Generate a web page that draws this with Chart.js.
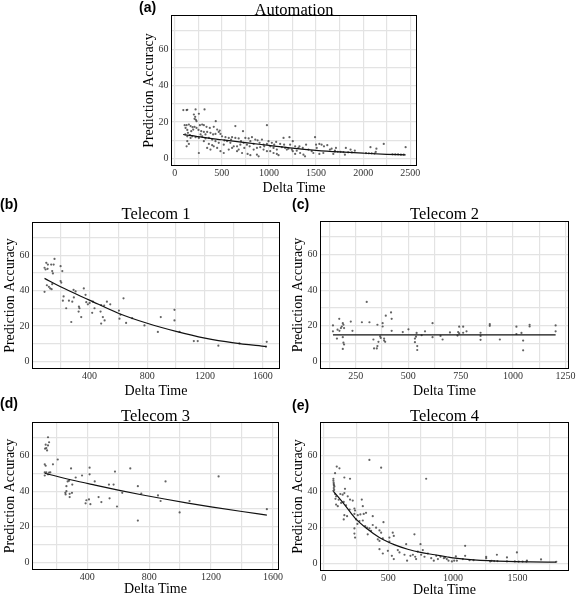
<!DOCTYPE html>
<html>
<head>
<meta charset="utf-8">
<script src="https://cdn.jsdelivr.net/npm/chart.js@4.4.0/dist/chart.umd.min.js"></script>
<style>
  body { margin: 0; background: #fff; width: 576px; height: 596px; position: relative; overflow: hidden; }
  canvas { position: absolute; }
  .tag { position: absolute; font: bold 14px "Liberation Sans", Arial, sans-serif; line-height: 14px; color: #000; z-index: 2; }
</style>
</head>
<body>
<canvas id="pa"></canvas>
<canvas id="pb"></canvas>
<canvas id="pc"></canvas>
<canvas id="pd"></canvas>
<canvas id="pe"></canvas>
<div class="tag" style="left:139px;top:0px">(a)</div>
<div class="tag" style="left:0px;top:197px">(b)</div>
<div class="tag" style="left:292px;top:197px">(c)</div>
<div class="tag" style="left:0px;top:396px">(d)</div>
<div class="tag" style="left:292px;top:398px">(e)</div>
<script>
// shared y axis
const yGrid = [0, 10, 20, 30, 40, 50, 60, 70];
const yLabels = [0, 20, 40, 60];

// x axis grids / labels per panel
const autoXGrid = [0, 250, 500, 750, 1000, 1250, 1500, 1750, 2000, 2250, 2500];
const autoXLabels = [0, 500, 1000, 1500, 2000, 2500];
const tel1XGrid = [200, 400, 600, 800, 1000, 1200, 1400, 1600];
const tel1XLabels = [400, 800, 1200, 1600];
const tel2XGrid = [125, 250, 375, 500, 625, 750, 875, 1000, 1125, 1250];
const tel2XLabels = [250, 500, 750, 1000, 1250];
const tel3XGrid = [200, 400, 600, 800, 1000, 1200, 1400, 1600];
const tel3XLabels = [400, 800, 1200, 1600];
const tel4XGrid = [0, 250, 500, 750, 1000, 1250, 1500, 1750];
const tel4XLabels = [0, 500, 1000, 1500];

// (a) Automation: [delta time, accuracy]
const automationPts = [
  [92,26.5],[127,26.5],[134,26.7],[222,26.9],[317,26.9],[257,24.5],[204,24.1],[218,22.8],[211,21.7],[225,21.2],
  [232,20.4],[436,20.4],[106,18.2],[127,18.2],[151,18.6],[169,17.7],[190,17.1],[211,17.3],[232,16.7],[268,18.2],
  [292,18.6],[310,18.2],[338,17.3],[373,16.7],[415,17.3],[451,15.8],[479,15.3],[644,17.7],[725,14.9],[979,18.2],
  [116,16.7],[134,15.6],[197,15.8],[253,15.6],[282,14.9],[310,14.5],[345,14.5],[380,14.0],[433,13.4],[468,14.5],
  [503,12.1],[539,11.6],[574,11.2],[609,11.6],[644,11.2],[679,10.9],[750,11.2],[785,10.9],[820,11.6],[855,10.3],
  [880,9.9],[926,10.3],[996,9.4],[1031,8.5],[1077,9.0],[1119,7.9],[1155,11.2],[1218,11.6],[1253,9.4],[1278,6.6],
  [1313,5.7],[113,13.1],[134,12.1],[162,12.7],[169,11.2],[187,12.1],[222,11.6],[257,11.2],[292,12.1],[327,10.9],
  [363,11.2],[398,10.3],[433,9.4],[468,8.5],[521,7.5],[556,9.4],[591,8.5],[627,6.6],[662,6.6],[697,7.5],
  [732,8.5],[767,7.5],[796,6.6],[838,7.9],[873,5.7],[908,6.1],[943,7.5],[979,7.9],[1014,6.6],[1049,5.7],
  [1084,4.8],[1137,6.1],[1172,5.7],[1207,5.3],[1243,4.8],[134,9.4],[151,7.9],[127,6.6],[257,2.9],[345,5.7],
  [380,4.8],[415,6.6],[451,5.7],[486,3.9],[521,2.9],[574,4.8],[662,3.9],[715,2.9],[774,2.4],[803,1.7],
  [873,2.0],[891,1.1],[979,3.9],[1084,2.4],[1102,1.7],[1190,4.8],[1295,4.2],[141,14.0],[176,14.9],[275,13.1],
  [327,13.1],[408,13.1],[486,13.4],[528,9.8],[599,10.3],[704,9.4],[803,9.4],[901,8.5],[950,6.6],[1056,7.5],
  [1161,7.5],[1225,7.5],[310,9.4],[363,7.9],[398,7.2],[609,5.7],[679,4.8],[739,5.7],[838,4.8],[943,4.8],
  [1014,3.9],[1049,2.9],[1324,6.6],[1359,5.7],[1394,7.5],[1489,11.6],[1500,7.5],[1507,5.7],[1535,7.9],[1559,7.5],
  [1584,6.6],[1619,7.2],[1647,4.8],[1665,5.3],[1711,5.7],[1816,5.7],[1866,4.8],[1911,4.2],[2077,6.1],[2140,5.3],
  [2133,3.5],[2218,7.9],[2450,6.1],[1253,3.9],[1278,2.4],[1331,2.9],[1366,2.0],[1383,1.1],[1454,3.9],[1471,2.9],
  [1535,2.4],[1577,2.9],[1683,2.4],[1806,2.0],[1419,4.8],[1700,4.2],[1700,3.7],[1730,3.6],[1760,3.5],[1790,3.4],
  [1840,3.3],[1880,3.2],[2030,2.8],[2060,2.7],[2090,2.7],[2120,2.6],[2310,2.2],[2340,2.1],[2370,2.1],[2400,2.0],
  [2430,2.0]
];
const automationFit = [[90,13.1],[300,11.5],[500,10.2],[750,8.6],[1000,7.1],[1250,5.6],[1500,4.4],[1750,3.5],[2000,2.8],[2250,2.2],[2450,1.9]];

// (b) Telecom 1
const telecom1Pts = [
  [89,53.0],[101,55.8],[112,54.8],[135,54.8],[152,54.8],[158,58.0],[96,52.0],[110,52.4],[142,51.1],[147,49.8],
  [200,53.9],[212,51.1],[200,45.5],[205,44.6],[105,43.1],[119,42.2],[128,41.3],[138,40.9],[89,39.4],[142,43.7],
  [290,40.5],[304,39.6],[361,41.3],[373,37.7],[221,36.8],[216,34.4],[258,34.4],[281,33.8],[239,30.1],[292,36.2],
  [327,31.0],[331,30.1],[325,28.2],[343,25.1],[274,22.3],[378,33.5],[389,32.3],[401,33.1],[424,33.8],[435,30.1],
  [419,27.5],[481,31.9],[502,31.6],[521,33.8],[544,32.3],[477,28.2],[481,21.4],[493,25.1],[505,23.2],[604,28.8],
  [636,35.7],[615,26.4],[608,24.2],[654,21.8],[696,24.5],[781,20.4],[874,16.7],[894,25.1],[989,29.2],[989,23.2],
  [1024,16.7],[1123,11.5],[1150,11.5],[1293,8.9],[1439,10.2],[1623,8.4],[1628,11.1]
];
const telecom1Fit = [[89,47.0],[200,42.2],[400,34.7],[600,27.3],[800,21.6],[1000,17.0],[1200,13.2],[1400,10.5],[1626,8.4]];

// (c) Telecom 2
const telecom2Pts = [
  [141,20.2],[141,16.9],[160,12.8],[163,17.8],[171,23.9],[172,17.2],[179,18.7],[183,19.6],[188,21.5],[191,20.6],
  [194,18.7],[188,13.6],[191,10.5],[194,9.5],[188,7.0],[226,22.4],[234,17.2],[279,22.0],[302,33.4],[315,22.0],
  [353,20.6],[378,21.5],[378,19.6],[418,27.5],[421,23.9],[393,25.7],[421,17.2],[334,12.3],[337,7.3],[350,7.3],
  [353,8.6],[358,11.0],[366,14.1],[369,13.2],[385,12.8],[385,11.7],[390,11.0],[474,16.5],[501,18.0],[540,16.0],
  [537,13.9],[532,12.8],[532,10.8],[543,8.6],[543,6.4],[564,14.7],[580,16.9],[616,21.5],[616,13.6],[654,14.3],
  [664,12.3],[699,16.3],[743,19.5],[762,19.5],[738,16.5],[743,15.8],[762,16.1],[778,16.9],[735,14.5],[845,16.1],
  [845,14.3],[845,12.1],[889,20.9],[889,20.0],[937,12.3],[1016,19.5],[1016,15.4],[1040,16.0],[1048,11.7],[1048,6.2],
  [1079,20.6],[1079,19.6],[1203,20.2],[1203,16.9]
];
const telecom2Fit = [[141,14.9],[1203,14.9]];

// (d) Telecom 3
const telecom3Pts = [
  [146,70.3],[153,67.5],[131,66.1],[146,65.7],[127,63.9],[135,64.2],[140,62.9],[125,55.1],[131,54.3],[178,55.1],
  [209,57.8],[125,50.6],[135,50.6],[153,50.5],[161,50.6],[125,48.8],[146,49.5],[295,52.8],[415,53.2],[415,49.5],
  [366,48.8],[325,47.7],[273,45.5],[282,45.9],[448,45.5],[303,43.7],[265,42.8],[265,40.0],[258,39.1],[286,38.5],
  [301,39.1],[286,36.7],[260,38.2],[394,34.9],[411,35.4],[389,33.2],[420,32.7],[473,36.7],[491,33.9],[544,36.0],
  [540,43.7],[570,43.7],[579,51.0],[592,31.4],[678,52.8],[727,42.8],[626,39.1],[749,38.7],[727,23.5],[857,37.6],
  [874,34.5],[906,45.5],[997,28.1],[1061,34.5],[1249,48.3],[1561,29.9]
];
const telecom3Fit = [[125,50.1],[300,46.3],[450,43.4],[600,40.6],[750,38.0],[900,35.6],[1050,33.3],[1200,31.2],[1400,28.6],[1561,26.6]];

// (e) Telecom 4
const telecom4Pts = [
  [353,57.7],[444,53.4],[100,54.0],[121,53.0],[87,50.3],[159,47.9],[203,47.2],[793,47.2],[74,47.2],[74,46.1],
  [77,44.2],[82,42.9],[77,42.0],[164,41.6],[87,38.7],[128,38.7],[146,38.3],[159,39.2],[95,37.4],[185,37.4],
  [203,35.6],[224,35.0],[294,35.6],[154,34.3],[134,33.7],[95,32.8],[108,31.9],[172,32.4],[302,31.9],[237,30.6],
  [242,29.5],[237,27.6],[263,26.9],[283,27.3],[309,27.6],[327,28.2],[159,26.9],[180,26.3],[154,24.5],[250,24.5],
  [276,23.6],[302,23.9],[379,26.3],[462,23.0],[320,20.8],[335,19.9],[353,19.5],[366,18.1],[379,21.4],[405,19.9],
  [431,18.4],[444,17.1],[340,16.2],[237,19.5],[237,16.6],[242,14.4],[418,13.4],[431,12.5],[457,14.0],[508,12.2],
  [534,17.1],[542,15.3],[508,14.4],[702,16.2],[638,10.7],[749,10.7],[431,7.9],[496,7.0],[457,5.5],[527,4.2],
  [542,2.4],[573,7.4],[586,6.1],[625,4.8],[645,1.5],[671,4.2],[690,4.8],[708,3.7],[715,2.4],[728,6.6],
  [754,4.8],[767,7.4],[780,3.7],[806,5.5],[832,2.9],[852,1.5],[871,4.2],[884,2.4],[904,3.7],[930,2.9],
  [76,45.0],[78,43.5],[80,41.0],[74,40.5],[90,36.0],[115,35.5],[200,30.0],[260,22.0],
  [1095,9.8],[1095,4.2],[1023,3.9],[940,3.3],[953,2.4],[966,1.5],[992,1.1],[1010,1.5],[1031,1.5],[1077,2.4],
  [1129,1.8],[1160,1.8],[1258,3.7],[1258,2.9],[1289,1.1],[1341,4.8],[1419,3.3],[1419,1.1],[1496,6.1],[1574,1.5],
  [1683,2.2],[1801,0.9],[1300,1.4],[1320,1.3],[1345,1.3],[1480,1.1],[1510,1.0],[1540,1.0],[1570,1.0]
];
const telecom4Fit = [[74,40.2],[160,32.8],[240,25.4],[340,19.0],[430,14.4],[550,10.3],[650,7.9],[750,6.1],[860,4.8],[950,3.7],[1000,3.1],[1160,2.0],[1420,1.1],[1600,0.85],[1801,0.7]];

const SERIF = '"Liberation Serif", "Times New Roman", serif';
const M = { left: 48, right: 12, top: 24, bottom: 34 }; // canvas margin around plot box

const panels = [
  { id: 'pa', title: 'Automation', pts: automationPts, fit: automationFit, xGrid: autoXGrid, xLabels: autoXLabels, xMin: -28, xMax: 2560, box: [172, 16, 416, 165], gap: 1, xTitlePad: 2.6 },
  { id: 'pb', title: 'Telecom 1', pts: telecom1Pts, fit: telecom1Fit, xGrid: tel1XGrid, xLabels: tel1XLabels, xMin: 9, xMax: 1713, box: [33, 223, 279, 368], gap: 4, xTitlePad: 2.6 },
  { id: 'pc', title: 'Telecom 2', pts: telecom2Pts, fit: telecom2Fit, xGrid: tel2XGrid, xLabels: tel2XLabels, xMin: 84, xMax: 1262, box: [321, 222, 568, 368], gap: 3.5, xTitlePad: 2.6 },
  { id: 'pd', title: 'Telecom 3', pts: telecom3Pts, fit: telecom3Fit, xGrid: tel3XGrid, xLabels: tel3XLabels, xMin: 49, xMax: 1633, box: [33, 423, 278, 569], gap: 2, xTitlePad: 5.6 },
  { id: 'pe', title: 'Telecom 4', pts: telecom4Pts, fit: telecom4Fit, xGrid: tel4XGrid, xLabels: tel4XLabels, xMin: -22, xMax: 1892, box: [321, 423, 568, 570], gap: 2, xTitlePad: 5.6 }
];

// black frame + panel title over the plot area
const framePlugin = {
  id: 'panelFrame',
  afterDatasetsDraw(chart, args, opts) {
    const { ctx, chartArea: a } = chart;
    ctx.save();
    ctx.strokeStyle = '#000';
    ctx.lineWidth = 1;
    ctx.strokeRect(a.left - 0.5, a.top - 0.5, a.right - a.left + 1, a.bottom - a.top + 1);
    ctx.fillStyle = '#000';
    ctx.font = '16.5px ' + SERIF;
    ctx.textAlign = 'center';
    ctx.textBaseline = 'alphabetic';
    ctx.fillText(opts.text, (a.left + a.right) / 2, a.top - opts.gap);
    ctx.restore();
  }
};

function drawPanel(p) {
  const cv = document.getElementById(p.id);
  const [l, t, r, b] = p.box;
  const cl = l - M.left, ct = t - M.top;
  const cw = r + M.right - cl, ch = b + M.bottom - ct;
  cv.width = cw; cv.height = ch;
  cv.style.left = cl + 'px'; cv.style.top = ct + 'px';
  cv.style.width = cw + 'px'; cv.style.height = ch + 'px';

  new Chart(cv, {
    type: 'scatter',
    data: {
      datasets: [
        {
          type: 'line',
          data: p.fit.map(([x, y]) => ({ x, y })),
          borderColor: '#111',
          borderWidth: 1.2,
          pointRadius: 0,
          cubicInterpolationMode: 'monotone',
          fill: false
        },
        {
          data: p.pts.map(([x, y]) => ({ x, y })),
          pointRadius: 1.1,
          pointBackgroundColor: 'rgba(60,60,60,0.8)',
          pointBorderWidth: 0
        }
      ]
    },
    options: {
      responsive: false,
      animation: false,
      layout: { padding: { left: 0, top: M.top, right: M.right, bottom: 0 } },
      plugins: {
        legend: { display: false },
        tooltip: { enabled: false },
        panelFrame: { text: p.title, gap: p.gap }
      },
      scales: {
        x: {
          type: 'linear',
          min: p.xMin,
          max: p.xMax,
          afterBuildTicks: s => { s.ticks = p.xGrid.map(v => ({ value: v })); },
          afterFit: s => { s.height = M.bottom; },
          ticks: {
            autoSkip: false, maxRotation: 0, padding: 2,
            callback: v => p.xLabels.includes(v) ? String(v) : '',
            font: { family: SERIF, size: 10 }, color: '#333'
          },
          grid: { color: '#e3e3e3', lineWidth: 1.2, drawTicks: false },
          border: { display: false },
          title: {
            display: true, text: 'Delta Time', color: '#000',
            font: { family: SERIF, size: 14 }, padding: { top: 0, bottom: p.xTitlePad }
          }
        },
        y: {
          min: -3.7,
          max: 78.3,
          afterBuildTicks: s => { s.ticks = yGrid.map(v => ({ value: v })); },
          afterFit: s => { s.width = M.left; },
          ticks: {
            autoSkip: false, padding: 3.5,
            callback: v => yLabels.includes(v) ? String(v) : '',
            font: { family: SERIF, size: 10 }, color: '#333'
          },
          grid: { color: '#e3e3e3', lineWidth: 1.2, drawTicks: false },
          border: { display: false },
          title: {
            display: true, text: 'Prediction Accuracy', color: '#000',
            font: { family: SERIF, size: 14 }, padding: { top: 16.6, bottom: 0 }
          }
        }
      }
    },
    plugins: [framePlugin]
  });
}

panels.forEach(drawPanel);
</script>
</body>
</html>
